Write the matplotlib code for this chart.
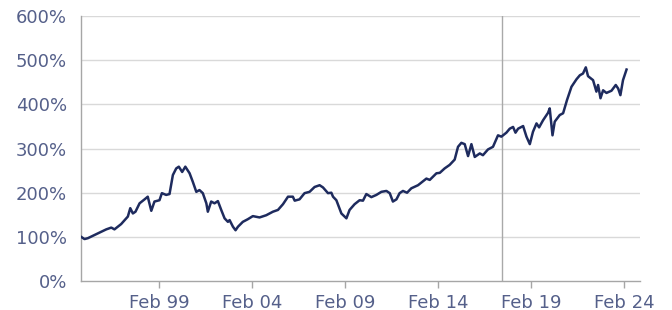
import matplotlib
matplotlib.use("Agg")
import matplotlib.pyplot as plt

years = [1994.87, 1995.05, 1995.23, 1995.68, 1996.22, 1996.49, 1996.66, 1997.02, 1997.38, 1997.51,
         1997.65, 1997.79, 1998.01, 1998.28, 1998.45, 1998.64, 1998.81, 1999.08, 1999.21, 1999.44,
         1999.62, 1999.80, 1999.98, 2000.12, 2000.30, 2000.47, 2000.70, 2000.87, 2001.06, 2001.23,
         2001.41, 2001.60, 2001.68, 2001.86, 2002.04, 2002.22, 2002.40, 2002.58, 2002.76, 2002.85,
         2003.03, 2003.17, 2003.30, 2003.56, 2003.83, 2004.10, 2004.46, 2004.82, 2005.18, 2005.45,
         2005.72, 2005.99, 2006.25, 2006.35, 2006.61, 2006.88, 2007.15, 2007.42, 2007.69, 2007.87,
         2008.14, 2008.32, 2008.41, 2008.59, 2008.86, 2009.13, 2009.30, 2009.57, 2009.84, 2010.02,
         2010.20, 2010.47, 2010.74, 2011.01, 2011.28, 2011.46, 2011.63, 2011.82, 2011.99, 2012.17,
         2012.39, 2012.62, 2012.98, 2013.43, 2013.61, 2013.97, 2014.15, 2014.41, 2014.68, 2014.95,
         2015.13, 2015.31, 2015.49, 2015.67, 2015.85, 2016.03, 2016.30, 2016.47, 2016.74, 2017.01,
         2017.28, 2017.46, 2017.73, 2017.91, 2018.09, 2018.22, 2018.36, 2018.63, 2018.81, 2018.99,
         2019.16, 2019.35, 2019.49, 2019.70, 2019.97, 2020.06, 2020.21, 2020.33, 2020.60, 2020.78,
         2020.99, 2021.23, 2021.50, 2021.68, 2021.85, 2022.00, 2022.12, 2022.39, 2022.57, 2022.66,
         2022.79, 2022.93, 2023.11, 2023.38, 2023.61, 2023.74, 2023.86, 2024.00, 2024.19]
values = [100, 95, 97, 106, 117, 121, 117, 129, 146, 165,
          153, 157, 176, 185, 191, 159, 180, 183, 199, 195,
          197, 240, 255, 259, 247, 259, 244, 225, 202, 206,
          199, 176, 157, 180, 176, 181, 161, 142, 134, 138,
          123, 115, 123, 134, 140, 147, 144, 149, 157, 161,
          174, 191, 191, 182, 185, 199, 202, 213, 217, 212,
          199, 200, 191, 183, 153, 142, 161, 174, 183, 182,
          197, 190, 195, 202, 204, 199, 180, 185, 199, 204,
          200, 210, 217, 232, 229, 244, 245, 255, 263, 275,
          304, 313, 310, 283, 310, 281, 289, 285, 298, 304,
          330, 327, 336, 345, 349, 336, 345, 351, 327, 310,
          338, 357, 348, 364, 381, 391, 330, 361, 376, 380,
          410, 440, 457, 466, 470, 484, 464, 455, 429, 444,
          414, 432, 426, 431, 444, 436, 421, 455, 479]

xtick_pos = [1999.08, 2004.08, 2009.08, 2014.08, 2019.08, 2024.08]
xtick_labels = ["Feb 99", "Feb 04", "Feb 09", "Feb 14", "Feb 19", "Feb 24"]
ytick_vals = [0, 100, 200, 300, 400, 500, 600]
ytick_labels = ["0%", "100%", "200%", "300%", "400%", "500%", "600%"]
marker_year = 2017.48

fig = plt.figure(figsize=(6.72, 3.10), dpi=100)
ax = fig.add_axes([0.1205, 0.0935, 0.8315, 0.8545])

label_color = "#55608a"
grid_color = "#d9d9d9"

for yv in ytick_vals[1:]:
    ax.axhline(yv, color=grid_color, lw=1.0, zorder=1)
ax.axvline(marker_year, color="#a9a9a9", lw=1.0, zorder=1)

ax.plot(years, values, color="#1e2b5e", lw=1.8, zorder=3)

ax.set_xlim(1994.86, 2024.90)
ax.set_ylim(0, 600)
ax.set_xticks(xtick_pos)
ax.set_xticklabels(xtick_labels)
ax.set_yticks(ytick_vals)
ax.set_yticklabels(ytick_labels)

for s in ["top", "right"]:
    ax.spines[s].set_visible(False)
for s in ["left", "bottom"]:
    ax.spines[s].set_color("#a6a6a6")
    ax.spines[s].set_linewidth(1.0)

ax.tick_params(axis="y", length=0, pad=10, labelsize=13, labelcolor=label_color)
ax.tick_params(axis="x", length=5, width=1, color="#a6a6a6", pad=4, labelsize=13, labelcolor=label_color)

fig.savefig("out.png", dpi=100)
